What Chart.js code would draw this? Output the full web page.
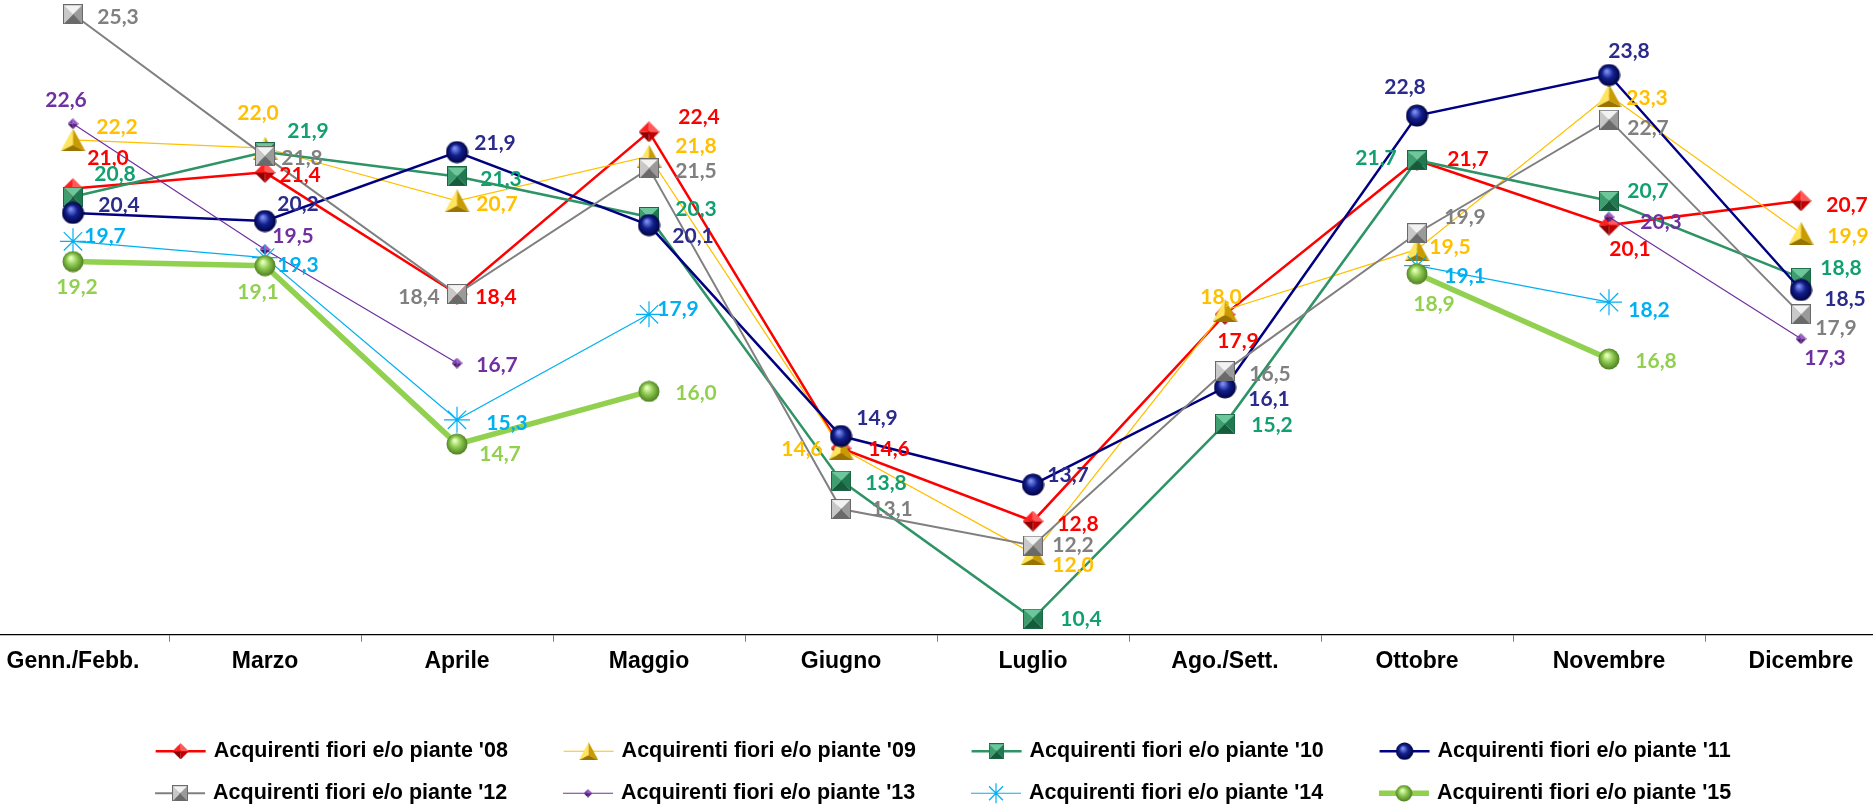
<!DOCTYPE html>
<html lang="it">
<head>
<meta charset="utf-8">
<title>Acquirenti fiori e/o piante</title>
<script src="https://cdn.jsdelivr.net/npm/chart.js@4.4.0/dist/chart.umd.min.js"></script>
<style>
  html, body { margin: 0; padding: 0; background: #fff; overflow: hidden; width: 1873px; height: 806px; }
  /* il grafico e' piu' largo della finestra: Genn./Febb. e Dicembre restano tagliati ai bordi */
  #contenitore { position: absolute; left: -46px; top: 0; width: 1943px; height: 814px; }
</style>
</head>
<body>
<div id="contenitore"><canvas id="grafico"></canvas></div>
<script>
// Dati (quote percentuali per mese)
const mesi = ['Genn./Febb.', 'Marzo', 'Aprile', 'Maggio', 'Giugno', 'Luglio', 'Ago./Sett.', 'Ottobre', 'Novembre', 'Dicembre'];
const anni = ["'08", "'09", "'10", "'11", "'12", "'13", "'14", "'15"];

const piante08 = [21.0, 21.4, 18.4, 22.4, 14.6, 12.8, 17.9, 21.7, 20.1, 20.7];
const piante09 = [22.2, 22.0, 20.7, 21.8, 14.6, 12.0, 18.0, 19.5, 23.3, 19.9];
const piante10 = [20.8, 21.9, 21.3, 20.3, 13.8, 10.4, 15.2, 21.7, 20.7, 18.8];
const piante11 = [20.4, 20.2, 21.9, 20.1, 14.9, 13.7, 16.1, 22.8, 23.8, 18.5];
const piante12 = [25.3, 21.8, 18.4, 21.5, 13.1, 12.2, 16.5, 19.9, 22.7, 17.9];
const piante13 = [22.6, 19.5, 16.7, null, null, null, null, null, 20.3, 17.3];
const piante14 = [19.7, 19.3, 15.3, 17.9, null, null, null, 19.1, 18.2, null];
const piante15 = [19.2, 19.1, 14.7, 16.0, null, null, null, 18.9, 16.8, null];

// Spostamento delle etichette rispetto al punto [dx, dy]
const spost08 = [[35, -30], [35, 3], [39, 3], [50, -15], [48, 1], [45, 3], [13, 27], [51, -1], [21, 24], [46, 4]];
const spost09 = [[44, -13], [-7, -35], [40, 3], [47, -10], [-39, 1], [40, 12], [-4, -13], [33, -2], [38, 3], [47, 3]];
const spost10 = [[42, -22], [43, -21], [44, 3], [47, -8], [45, 3], [48, 1], [47, 1], [-41, -2], [39, -10], [40, -10]];
const spost11 = [[46, -8], [33, -17], [38, -9], [44, 11], [36, -18], [35, -9], [44, 12], [-12, -28], [20, -24], [44, 9]];
const spost12 = [[45, 3], [37, 2], [-38, 3], [47, 3], [51, 0], [40, 0], [45, 3], [48, -16], [39, 9], [35, 14]];
const spost13 = [[-7, -23], [28, -13], [40, 2], null, null, null, null, null, [52, 5], [24, 20]];
const spost14 = [[32, -5], [33, 8], [50, 3], [29, -5], null, null, null, [48, 11], [40, 8], null];
const spost15 = [[4, 26], [-7, 27], [43, 10], [47, 2], null, null, null, [17, 30], [47, 2], null];

// --- marcatori "3D" disegnati su piccoli canvas ---
function marker(w, h, disegna) {
  const c = document.createElement('canvas');
  c.width = w;
  c.height = h;
  disegna(c.getContext('2d'), w, h);
  return c;
}

function facce(ctx, cx, cy, punti, colori) {
  punti.forEach((p, k) => {
    const q = punti[(k + 1) % punti.length];
    ctx.beginPath();
    ctx.moveTo(cx, cy);
    ctx.lineTo(p[0], p[1]);
    ctx.lineTo(q[0], q[1]);
    ctx.closePath();
    ctx.fillStyle = colori[k];
    ctx.fill();
  });
}

const rombo = (s, colori) => marker(s, s, (ctx, w, h) =>
  facce(ctx, w / 2, h / 2, [[w / 2, 0], [w, h / 2], [w / 2, h], [0, h / 2]], colori));

const quadro = (s, colori, bordo) => marker(s, s, (ctx, w, h) => {
  facce(ctx, w / 2, h / 2, [[0, 0], [w, 0], [w, h], [0, h]], colori);
  ctx.strokeStyle = bordo;
  ctx.lineWidth = 1;
  ctx.strokeRect(0.5, 0.5, w - 1, h - 1);
});

const triangolo = marker(25, 23, (ctx, w, h) => {
  const cx = w / 2, cy = h * 0.72;
  facce(ctx, cx, cy, [[w / 2, 0], [0, h], [w, h]], ['#FFE45C', '#9A7400', '#C89B00']);
});

const sfera = (s, chiaro, medio, scuro) => marker(s, s, (ctx, w, h) => {
  const g = ctx.createRadialGradient(w * 0.4, h * 0.33, 1, w / 2, h / 2, w / 2);
  g.addColorStop(0, chiaro);
  g.addColorStop(0.45, medio);
  g.addColorStop(1, scuro);
  ctx.beginPath();
  ctx.arc(w / 2, h / 2, w / 2 - 0.5, 0, Math.PI * 2);
  ctx.fillStyle = g;
  ctx.fill();
});

const mRosso = rombo(21, ['#FF5A5A', '#C00000', '#8E0000', '#FF2020']);
const mVerde = quadro(20, ['#6CC79A', '#1F7A52', '#155C3C', '#3E9E70'], '#1B6645');
const mBlu = sfera(23, '#7C8CF0', '#12208E', '#00003C');
const mGrigio = quadro(20, ['#F2F2F2', '#9A9A9A', '#6A6A6A', '#C8C8C8'], '#6A6A6A');
const mViola = rombo(11, ['#9A5CC8', '#5A2080', '#43176A', '#7A40B0']);
const mVerdino = sfera(22, '#E4FFB8', '#8CC850', '#4A7A1E');

const serie = [piante08, piante09, piante10, piante11, piante12, piante13, piante14, piante15];
const spostamenti = [spost08, spost09, spost10, spost11, spost12, spost13, spost14, spost15];
const coloriLinea = ['#FF0000', '#FFC000', '#2E9466', '#000080', '#808080', '#7030A0', '#00B0F0', '#92D050'];
const coloriEtichetta = ['#FF0000', '#FFC000', '#12A070', '#2B2B8C', '#808080', '#7030A0', '#00B0F0', '#92D050'];
const spessori = [2.5, 1.2, 2.5, 2.5, 2, 1.2, 1.2, 5.5];
const simboli = [mRosso, triangolo, mVerde, mBlu, mGrigio, mViola, 'star', mVerdino];

const datasets = serie.map((dati, i) => ({
  label: 'Acquirenti fiori e/o piante ' + anni[i],
  data: dati,
  borderColor: coloriLinea[i],
  backgroundColor: coloriLinea[i],
  borderWidth: spessori[i],
  pointStyle: simboli[i],
  pointRadius: simboli[i] === 'star' ? 13 : 10,
  pointBorderColor: coloriLinea[i],
  pointBorderWidth: 1.2,
  tension: 0,
  fill: false,
  order: serie.length - i
}));

// etichette dei valori
const etichettePlugin = {
  id: 'etichetteValori',
  afterDatasetsDraw(chart) {
    const ctx = chart.ctx;
    ctx.save();
    ctx.font = 'bold 21px Lato, "Open Sans", sans-serif';
    ctx.textAlign = 'center';
    ctx.textBaseline = 'middle';
    chart.data.datasets.forEach((ds, i) => {
      const meta = chart.getDatasetMeta(i);
      meta.data.forEach((pt, j) => {
        const v = ds.data[j];
        if (v === null || !spostamenti[i][j]) return;
        const [dx, dy] = spostamenti[i][j];
        ctx.fillStyle = coloriEtichetta[i];
        ctx.fillText(v.toFixed(1).replace('.', ','), pt.x + dx, pt.y + dy);
      });
    });
    ctx.restore();
  }
};

const LARGH_BOX = 82.5;
const FONT_LEGENDA = 21.5;

// linea + simbolo davanti a ogni voce della legenda
const campioniPlugin = {
  id: 'campioniLegenda',
  afterDraw(chart) {
    const leg = chart.legend;
    if (!leg || !leg.legendHitBoxes) return;
    const ctx = chart.ctx;
    leg.legendHitBoxes.forEach((hb, k) => {
      const i = leg.legendItems[k].datasetIndex;
      const tx = hb.left + LARGH_BOX + FONT_LEGENDA / 2;
      const cy = hb.top + hb.height / 2;
      const cx = tx - 33;
      ctx.save();
      ctx.strokeStyle = coloriLinea[i];
      ctx.lineWidth = spessori[i];
      ctx.beginPath();
      ctx.moveTo(tx - 58, cy);
      ctx.lineTo(tx - 8, cy);
      ctx.stroke();
      const s = simboli[i];
      if (s === 'star') {
        const r = 10;
        ctx.lineWidth = 1.2;
        ctx.beginPath();
        ctx.moveTo(cx, cy - r); ctx.lineTo(cx, cy + r);
        ctx.moveTo(cx - r * 0.7, cy - r * 0.7); ctx.lineTo(cx + r * 0.7, cy + r * 0.7);
        ctx.moveTo(cx - r * 0.7, cy + r * 0.7); ctx.lineTo(cx + r * 0.7, cy - r * 0.7);
        ctx.stroke();
      } else {
        const w = s.width * 0.78, h = s.height * 0.78;
        ctx.drawImage(s, cx - w / 2, cy - h / 2, w, h);
      }
      ctx.restore();
    });
  }
};

const ctx = document.getElementById('grafico').getContext('2d');
new Chart(ctx, {
  type: 'line',
  data: { labels: mesi, datasets: datasets },
  plugins: [etichettePlugin, campioniPlugin],
  options: {
    responsive: true,
    maintainAspectRatio: false,
    animation: false,
    layout: { padding: 0, autoPadding: false },
    plugins: {
      tooltip: { enabled: false },
      legend: {
        position: 'bottom',
        labels: {
          boxWidth: LARGH_BOX,
          padding: 20.5,
          color: '#000',
          font: { family: '"Liberation Sans", Arial, sans-serif', size: FONT_LEGENDA, weight: 'bold' },
          generateLabels(chart) {
            return chart.data.datasets.map((ds, i) => ({
              text: ds.label,
              fillStyle: 'rgba(0,0,0,0)',
              strokeStyle: 'rgba(0,0,0,0)',
              lineWidth: 0,
              fontColor: '#000',
              hidden: false,
              datasetIndex: i
            }));
          }
        }
      }
    },
    scales: {
      x: {
        offset: true,
        grid: { display: true, drawOnChartArea: false, drawTicks: true, tickLength: 7, color: '#808080', offset: true },
        border: { display: true, color: '#000', width: 1.3 },
        ticks: {
          autoSkip: false,
          maxRotation: 0,
          padding: 6,
          color: '#000',
          font: { family: '"Liberation Sans", Arial, sans-serif', size: 23, weight: 'bold' }
        },
        afterFit(scale) { scale.height = 85.25; }
      },
      y: {
        min: 10,
        max: 25.65,
        display: true,
        grid: { display: false },
        border: { display: false },
        ticks: { display: false },
        afterFit(scale) { scale.width = 23; }
      }
    }
  }
});
</script>
</body>
</html>
